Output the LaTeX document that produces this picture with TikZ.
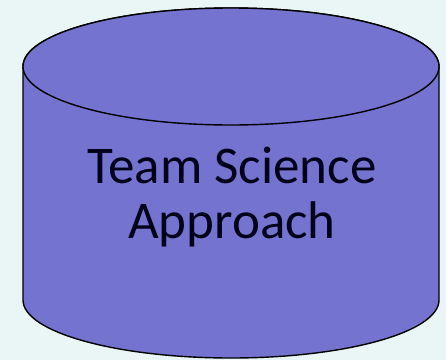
\documentclass[tikz,border=0pt]{standalone}
\usepackage{fontspec}
\setmainfont{Carlito}
\definecolor{bgc}{HTML}{EAF6F6}
\definecolor{cylfill}{HTML}{7473CF}
\tikzset{cyl/.style={fill=cylfill, draw=black, line width=1.4pt},
  lbl/.style={align=center, font=\fontsize{53}{55}\selectfont, text=black!90!blue, inner sep=0pt}}
\begin{document}
\begin{tikzpicture}[x=1pt,y=1pt]
\fill[bgc] (0,0) rectangle (446,360);
\useasboundingbox (0,0) rectangle (446,360);
\path[cyl] (23,293.5) -- (23,60) arc[start angle=180, end angle=360, x radius=208, y radius=58] -- (439,293.5) arc[start angle=0, end angle=180, x radius=208, y radius=58.5] -- cycle;
\draw[cyl] (231,293.5) ellipse [x radius=208, y radius=58.5];
\node[lbl] (txt) at (232,163) {Team Science\\Approach};
\end{tikzpicture}
\end{document}
